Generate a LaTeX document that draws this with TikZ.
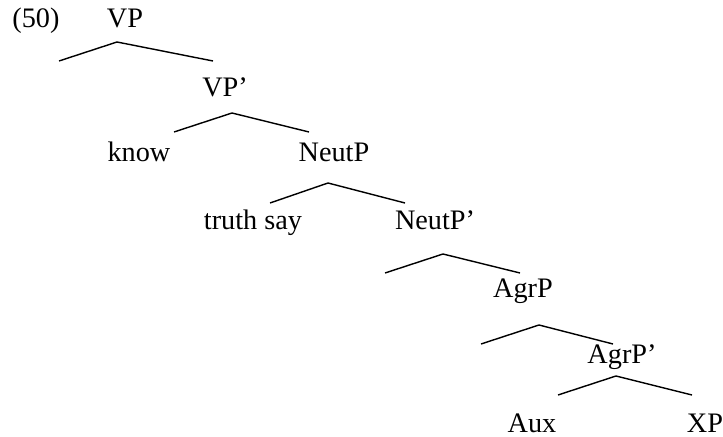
\documentclass[tikz,border=0pt]{standalone}
\usepackage{fontspec}
\setmainfont{Liberation Serif}
\begin{document}
\begin{tikzpicture}[x=0.425pt,y=0.425pt,yscale=-1,xscale=1,
  word/.style={anchor=base,inner sep=0pt,font=\fontsize{12}{14}\selectfont},
  branch/.style={line width=0.6pt}]
\useasboundingbox (0,0) rectangle (723,437);

%Labels
\node[word] (ex) at (36,28) {(50)};
\node[word] (vp) at (125,28) {VP};
\node[word] (vpbar) at (225,97) {VP’};
\node[word] (know) at (139,162) {know};
\node[word] (neutp) at (334,162) {NeutP};
\node[word] (truth) at (253,230) {truth say};
\node[word] (neutpbar) at (435,230) {NeutP’};
\node[word] (agrp) at (523,298) {AgrP};
\node[word] (agrpbar) at (622,364) {AgrP’};
\node[word] (aux) at (532,433) {Aux};
\node[word] (xp) at (705,433) {XP};

%Branch points
\coordinate (vp-a) at (117,42);  \coordinate (vp-l) at (59,61);   \coordinate (vp-r) at (213,61);
\coordinate (vpbar-a) at (232,113); \coordinate (vpbar-l) at (174,132); \coordinate (vpbar-r) at (309,132);
\coordinate (neutp-a) at (328,183); \coordinate (neutp-l) at (270,203); \coordinate (neutp-r) at (405,203);
\coordinate (neutpbar-a) at (443,254); \coordinate (neutpbar-l) at (385,273); \coordinate (neutpbar-r) at (520,273);
\coordinate (agrp-a) at (539,325); \coordinate (agrp-l) at (481,344); \coordinate (agrp-r) at (613,344);
\coordinate (agrpbar-a) at (616,376); \coordinate (agrpbar-l) at (558,395); \coordinate (agrpbar-r) at (692,395);

%Branches
\draw[branch] (vp-l) -- (vp-a) -- (vp-r);
\draw[branch] (vpbar-l) -- (vpbar-a) -- (vpbar-r);
\draw[branch] (neutp-l) -- (neutp-a) -- (neutp-r);
\draw[branch] (neutpbar-l) -- (neutpbar-a) -- (neutpbar-r);
\draw[branch] (agrp-l) -- (agrp-a) -- (agrp-r);
\draw[branch] (agrpbar-l) -- (agrpbar-a) -- (agrpbar-r);
\end{tikzpicture}
\end{document}
